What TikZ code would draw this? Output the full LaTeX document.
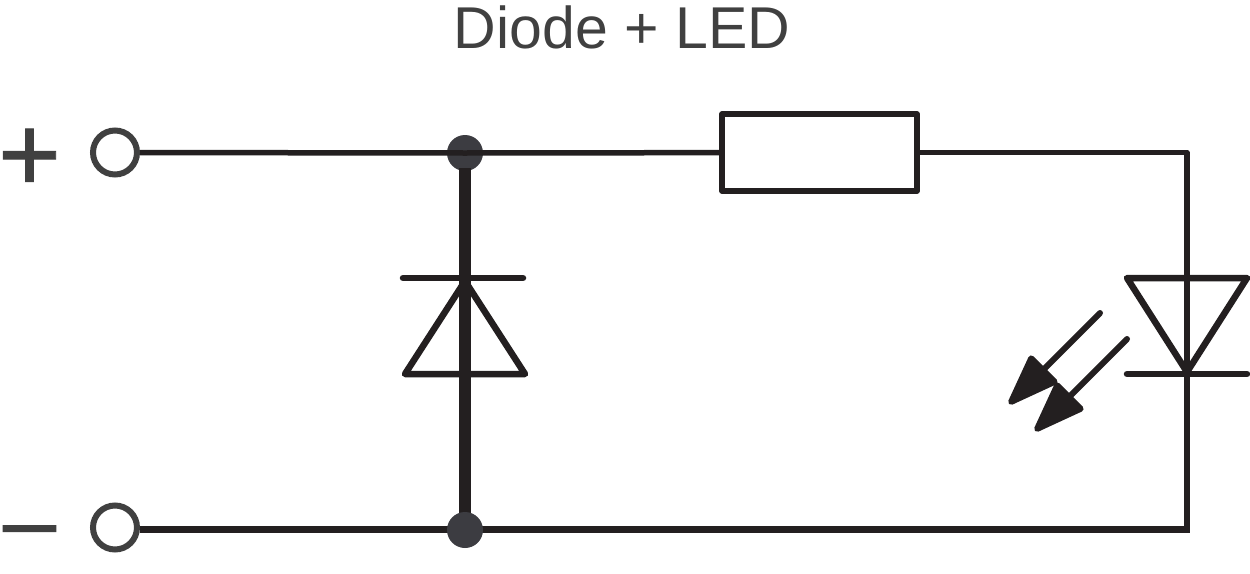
\documentclass[tikz,border=0pt]{standalone}
\usepackage{fontspec}
\setmainfont{Liberation Sans}
\newfontfamily\signfont[FakeBold=0.8]{Liberation Sans}
\newfontfamily\minusfont[FakeBold=2.6]{Liberation Sans}
\usetikzlibrary{arrows.meta,positioning}
\definecolor{wirecol}{HTML}{231F20}
\definecolor{dotcol}{HTML}{3C3C41}
\definecolor{textcol}{HTML}{404040}
\tikzset{
  basic/.style    = {draw=wirecol, line join=round},
  wire/.style     = {basic, line width=5.5pt},
  botwire/.style  = {basic, line width=7pt},
  busbar/.style   = {basic, line width=12.5pt},
  diode/.style    = {basic, line width=6.5pt, line cap=round},
  terminal/.style = {circle, draw=textcol, line width=6pt, fill=white, minimum size=44pt, inner sep=0pt},
  junction/.style = {circle, fill=dotcol, minimum size=36pt, inner sep=0pt},
  resistor/.style = {basic, rectangle, line width=5.5pt, minimum width=195pt, minimum height=77pt, inner sep=0pt},
  sign/.style     = {text=textcol, inner sep=0pt, font=\signfont\fontsize{108}{108}\selectfont},
  minussign/.style = {text=textcol, inner sep=0pt, font=\minusfont\fontsize{70}{70}\selectfont},
  light/.style    = {basic, line width=6pt, line cap=round,
                     -{Triangle[length=57pt, width=40pt, round]}}
}
\begin{document}
\begin{tikzpicture}[x=1pt,y=-1pt]
  \useasboundingbox (0,0) rectangle (1250,573);
  \node[text=textcol, inner sep=0pt, font=\fontsize{59}{62}\selectfont] (title) at (622,27) {Diode + LED};
  \node[sign] (plus) at (29.5,160) {+};
  \node[minussign] (minus) at (29.5,539) {\scalebox{1.5}[1]{−}};
  % terminals and parts
  \node[terminal] (tplus) at (115,152.5) {};
  \node[terminal] (tminus) at (115,527.5) {};
  \node[junction] (jtop) at (465,153) {};
  \node[resistor] (res) at (819.5,152.5) {};
  \coordinate (ctr) at (1187,152.5);
  \coordinate (cbr) at (1187,529);
  % wires
  \draw[wire] (tplus) -- (jtop.center) -- (res);
  \draw[wire] (res) -- (ctr) -- (cbr);
  \draw[busbar] ([yshift=3pt]jtop.south) -- (465,529);
  \draw[botwire] (tminus.east |- cbr) -- ([xshift=2.75pt]cbr);
  \node[junction] (jbot) at (465,530) {};
  % diode
  \coordinate (dapex) at (465,281);
  \coordinate (dleft) at (405,374);
  \coordinate (dright) at (525,374);
  \coordinate (dbarl) at (403,278);
  \coordinate (dbarr) at (523,278);
  \draw[diode] (dbarl) -- (dbarr);
  \draw[diode] (dapex) -- (dleft) -- (dright) -- cycle;
  % led
  \coordinate (lapex) at (1187,372);
  \coordinate (lleft) at (1127,278);
  \coordinate (lright) at (1247,278);
  \coordinate (lbarl) at (1127,374);
  \coordinate (lbarr) at (1247,374);
  \draw[diode] (lleft) -- (lright) -- (lapex) -- cycle;
  \draw[diode] (lbarl) -- (lbarr);
  % light arrows
  \coordinate (aone) at (1100,313);
  \coordinate (aonetip) at (1009,404);
  \coordinate (atwo) at (1127,339);
  \coordinate (atwotip) at (1035,431);
  \draw[light] (aone) -- (aonetip);
  \draw[light] (atwo) -- (atwotip);
\end{tikzpicture}
\end{document}
